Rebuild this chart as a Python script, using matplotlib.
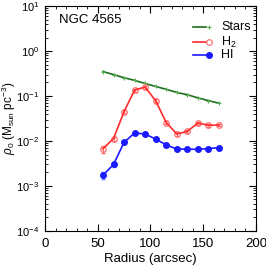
import matplotlib
matplotlib.use("Agg")
import matplotlib.pyplot as plt
from matplotlib.ticker import LogLocator, MultipleLocator, NullFormatter

plt.rcParams["font.family"] = ["Liberation Sans", "DejaVu Sans"]
plt.rcParams["mathtext.fontset"] = "custom"
plt.rcParams["mathtext.rm"] = "Liberation Sans"
plt.rcParams["mathtext.it"] = "Liberation Sans:italic"

radius = [55, 65, 75, 85, 95, 105, 115, 125, 135, 145, 155, 165]
stars = [0.35, 0.30, 0.255, 0.223, 0.19, 0.163, 0.141, 0.12, 0.107, 0.091, 0.079, 0.069]
h2 = [0.0067, 0.0113, 0.045, 0.136, 0.158, 0.078, 0.0257, 0.0143, 0.0164, 0.025, 0.0224, 0.0226]
h2_err = [0.0012, 0.0012, 0.004, 0.01, 0.012, 0.006, 0.002, 0.0012, 0.0012, 0.0018, 0.0015, 0.0015]
hi = [0.00173, 0.0030, 0.0093, 0.0151, 0.0143, 0.011, 0.0082, 0.0066, 0.0066, 0.0065, 0.0068, 0.0071]
hi_err = [0.0003, 0.0003, 0.0006, 0.0008, 0.0007, 0.0005, 0.0004, 0.0003, 0.0003, 0.0003, 0.0003, 0.0003]

C_STAR_LINE = "#1d701d"
C_STAR_MK = "#55aa55"
C_H2 = "#ff2a2a"
C_H2_MK = "#ff7070"
C_HI = "#1a1aff"

fig = plt.figure(figsize=(2.66, 2.66), dpi=100)
ax = fig.add_axes([0.169, 0.132, 0.793, 0.845])

ax.plot(radius, stars, "-", color=C_STAR_LINE, lw=1.2)
ax.plot(radius, stars, "+", color=C_STAR_MK, ms=3, mew=0.8)
ax.errorbar(radius, h2, yerr=h2_err, fmt="-", color=C_H2, lw=1.2,
            ecolor=C_H2_MK, elinewidth=0.8, capsize=1.5)
ax.plot(radius, h2, "o", mfc="none", mec=C_H2_MK, ms=4, mew=0.9)
ax.errorbar(radius, hi, yerr=hi_err, fmt="-o", color=C_HI, lw=1.2, ms=4,
            ecolor="#7a7aff", elinewidth=0.8, capsize=1.5)

ax.set_yscale("log")
ax.set_xlim(0, 200)
ax.set_ylim(1e-4, 10)
ax.xaxis.set_major_locator(MultipleLocator(50))
ax.xaxis.set_minor_locator(MultipleLocator(10))
ax.yaxis.set_major_locator(LogLocator(base=10, numticks=10))
ax.yaxis.set_minor_locator(LogLocator(base=10, subs=range(2, 10), numticks=10))
ax.yaxis.set_minor_formatter(NullFormatter())
ax.tick_params(which="both", direction="in", top=True, right=True)
ax.tick_params(which="major", length=5, width=0.8)
ax.tick_params(which="minor", length=2.5, width=0.6)
ax.tick_params(axis="x", pad=5, labelsize=9.5)
ax.tick_params(axis="y", pad=4, labelsize=8)

ax.set_xlabel("Radius (arcsec)", fontsize=9.5, labelpad=2)
ax.set_ylabel(r"$\rho_0$ (M$_{\rm sun}$ pc$^{-3}$)", fontsize=8.5)
ax.yaxis.set_label_coords(-0.13, 0.5)

ax.text(0.066, 0.938, "NGC 4565", transform=ax.transAxes, fontsize=9.5, va="center")

# IDL-style legend: line then symbol
rows = [("Stars", C_STAR_LINE, dict(marker="+", color=C_STAR_MK, ms=3, mew=0.8)),
        ("H$_2$", C_H2, dict(marker="o", mfc="none", mec=C_H2_MK, ms=4, mew=0.9)),
        ("HI", C_HI, dict(marker="o", color=C_HI, ms=4))]
ys = [0.907, 0.84, 0.782]
for (label, lc, mk), y in zip(rows, ys):
    ax.plot([0.70, 0.763], [y, y], color=lc, lw=1.2, transform=ax.transAxes)
    ax.plot([0.777], [y], ls="none", transform=ax.transAxes, **mk)
    ax.text(0.835, y, label, transform=ax.transAxes, fontsize=9, va="center")

fig.savefig("out.png", dpi=100)
